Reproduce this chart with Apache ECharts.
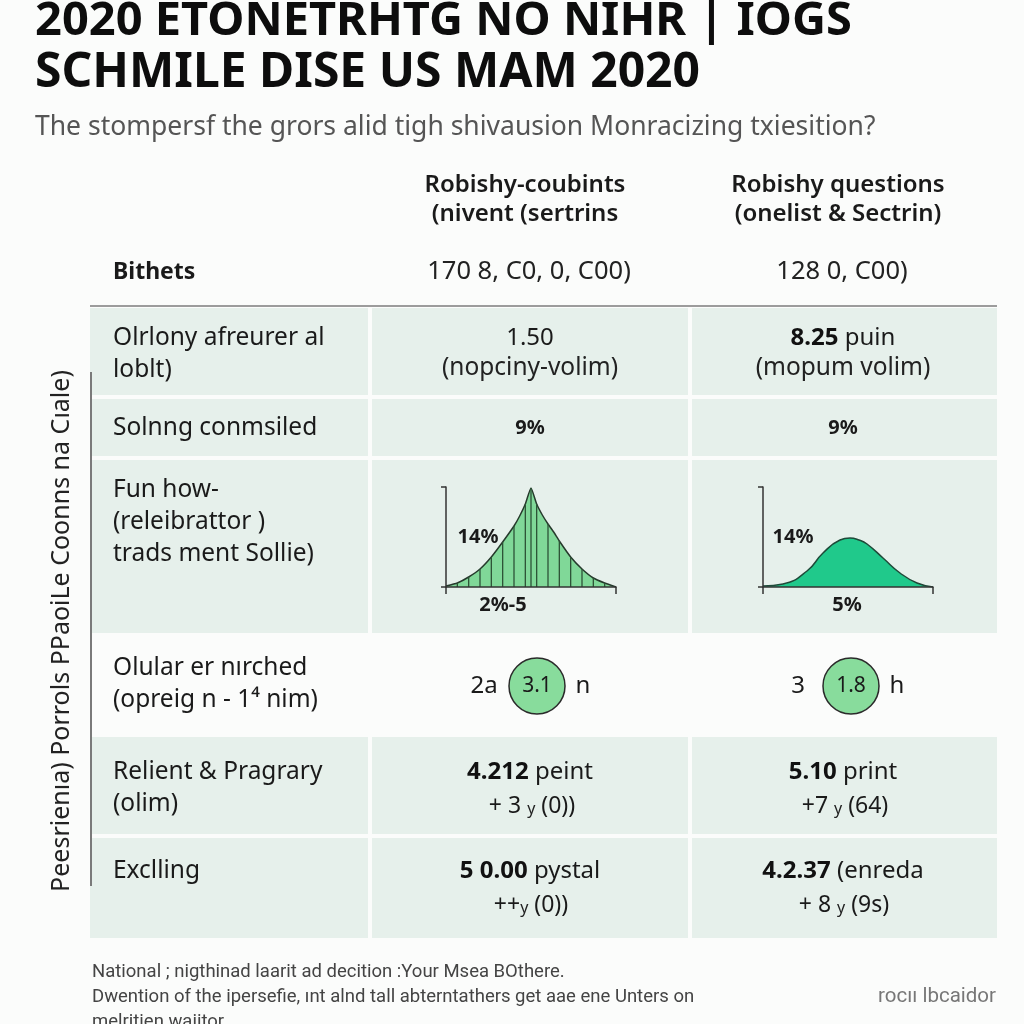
<!DOCTYPE html>
<html>
<head>
<meta charset="utf-8">
<script src="https://cdn.jsdelivr.net/npm/echarts@6/dist/echarts.min.js"></script>
<style>html,body{margin:0;padding:0;background:#fbfcfb;}#c{width:1024px;height:1024px;}</style>
</head>
<body>
<div id="c"></div>
<script>
// ---------- data ----------
const titleLines = ['2020 ETONETRHTG NO NIHR | IOGS', 'SCHMILE DISE US MAM 2020'];
const subtitle = 'The stompersf the grors alid tigh shivausion Monracizing txiesition?';
const columnHeaders = [['Robishy-coubints', '(nivent (sertrins'], ['Robishy questions', '(onelist & Sectrin)']];
const baseLabel = 'Bithets';
const baseValues = ['170 8, C0, 0, C00)', '128 0, C00)'];
const rowLabels = [
  ['Olrlony afreurer al', 'loblt)'],
  ['Solnng conmsiled'],
  ['Fun how-', '(releibrattor )', 'trads ment Sollie)'],
  ['Olular er nırched', '(opreig n - 1⁴ nim)'],
  ['Relient & Pragrary', '(olim)'],
  ['Exclling']
];
const volumeValues = [['1.50', '(nopciny-volim)'], ['{b|8.25} puin', '(mopum volim)']];
const shareValues = ['9%', '9%'];
const curveALabels = ['14%', '2%-5'];
const curveBLabels = ['14%', '5%'];
const curveA = [[0,1],[1,4],[2,10],[3,18],[4,30],[5,45],[6,61],[6.5,71],[7,83],[7.5,99],[8,83],[8.5,72],[9,63],[9.5,55],[10,46],[11,30],[12,18],[13,9],[14,4],[15,0]];
const curveB = [[0,1],[2,3],[4.4,16],[6,34],[7.7,47],[8.7,49],[9.6,47],[10.4,43],[12,29],[13.7,14],[15.4,4],[17,0]];
const circleValues = [3.1, 1.8];
const circlePrefix = ['2a', '3'];
const circleSuffix = ['n', 'h'];
const pointValues = [['{b|4.212} peint', '+ 3 {s|y} (0))'], ['{b|5.10} print', '+7 {s|y} (64)']];
const excValues = [['{b|5 0.00} pystal', '++{s|y} (0))'], ['{b|4.2.37} (enreda', '+ 8 {s|y} (9s)']];
const sideLabel = 'Peesrienıa) Porrols PPaoiLe Coonns na Cıale)';
const footerLines = ['National ; nigthinad laarit ad decition :Your Msea BOthere.', 'Dwention of the ipersefie, ınt alnd tall abterntathers get aae ene Unters on', 'melritien waiitor'];
const footerRight = 'rocıı lbcaidor';

// ---------- layout ----------
const FONT = "'Noto Sans', sans-serif";
const colX = [[90, 368], [372, 688], [692, 997]];
const colC = [530, 843];
const rowY = [[308, 395], [399, 456], [460, 633], [637, 735], [737, 834], [838, 938]];
const shaded = [true, true, true, false, true, true];
const CELL = '#e6f0eb';

const g = [];
function txt(x, y, text, o) {
  o = o || {};
  g.push({
    type: 'text', x: x, y: y, rotation: o.rotation || 0, z: 10,
    style: {
      text: text, x: 0, y: 0,
      fontSize: o.size || 24, fontFamily: o.family || FONT, fontWeight: o.weight || 'normal',
      fill: o.color || '#1a1a1a',
      textAlign: o.align || 'left', align: o.align || 'left',
      textVerticalAlign: 'middle', verticalAlign: 'middle',
      rich: o.rich
    }
  });
}
const richB = { b: { fontWeight: 'bold', fontSize: 24, fontFamily: FONT, fill: '#111' }, s: { fontSize: 16, fontFamily: FONT, fill: '#222', padding: [6, 0, 0, 0] } };

// cells
rowY.forEach((r, i) => {
  if (!shaded[i]) return;
  colX.forEach(c => {
    g.push({ type: 'rect', z: -10, shape: { x: c[0], y: r[0], width: c[1] - c[0], height: r[1] - r[0] }, style: { fill: CELL } });
  });
});
// lines
g.push({ type: 'line', z: 2, shape: { x1: 90, y1: 306, x2: 997, y2: 306 }, style: { stroke: '#9c9c9c', lineWidth: 2 } });
g.push({ type: 'line', z: 2, shape: { x1: 91, y1: 372, x2: 91, y2: 886 }, style: { stroke: '#7a7a7a', lineWidth: 2 } });

// title
txt(35, 22, titleLines[0], { size: 47, weight: 'bold', color: '#0d0d0d' });
txt(35, 73, titleLines[1], { size: 48, weight: 'bold', color: '#0d0d0d' });
txt(35, 127, subtitle, { size: 26.5, color: '#555' });

// headers
columnHeaders.forEach((h, i) => {
  txt(colC[i] - 5, 185, h[0], { size: 24, weight: 600, align: 'center' });
  txt(colC[i] - 5, 214, h[1], { size: 24, weight: 600, align: 'center' });
});
txt(113, 272, baseLabel, { size: 23, weight: 'bold' });
baseValues.forEach((v, i) => txt(colC[i] - 1, 272, v, { size: 25.5, align: 'center', color: '#222' }));

// row labels
const firstLineY = [338, 428, 490, 668, 772, 871];
rowLabels.forEach((lines, i) => {
  lines.forEach((l, j) => txt(113, firstLineY[i] + j * 32, l, { size: 24.5 }));
});

// row 1
volumeValues.forEach((v, i) => {
  txt(colC[i], 338, v[0], { size: 24, align: 'center', rich: richB });
  txt(colC[i], 368, v[1], { size: 24.5, align: 'center', color: '#222' });
});
// row 2
shareValues.forEach((v, i) => txt(colC[i], 428, v, { size: 20, weight: 'bold', align: 'center' }));
// row 3 labels
txt(478, 537, curveALabels[0], { size: 20, weight: 'bold', align: 'center' });
txt(503, 605, curveALabels[1], { size: 20, weight: 'bold', align: 'center' });
txt(793, 537, curveBLabels[0], { size: 20, weight: 'bold', align: 'center' });
txt(847, 605, curveBLabels[1], { size: 20, weight: 'bold', align: 'center' });
// row 4
const circX = [537, 851];
circlePrefix.forEach((p, i) => {
  txt(circX[i] - 53, 686, p, { size: 24, align: 'center' });
  txt(circX[i] + 46, 686, circleSuffix[i], { size: 24, align: 'center' });
});
// rows 5-6
pointValues.forEach((v, i) => {
  txt(colC[i], 772, v[0], { size: 24, align: 'center', rich: richB });
  txt(colC[i] + 2, 806, v[1], { size: 23, align: 'center', rich: richB });
});
excValues.forEach((v, i) => {
  txt(colC[i], 871, v[0], { size: 24, align: 'center', rich: richB });
  txt(colC[i] + 1, 905, v[1], { size: 23, align: 'center', rich: richB });
});
// side label
txt(62, 631, sideLabel, { size: 25, align: 'center', rotation: Math.PI / 2, color: '#222' });
// footer
footerLines.forEach((l, i) => txt(92, 972 + i * 25, l, { size: 18.5, family: 'Roboto', color: '#444' }));
txt(996, 997, footerRight, { size: 20.5, family: 'Roboto', color: '#777', align: 'right' });

// ---------- charts ----------
function miniX(idx, max) {
  return {
    type: 'value', gridIndex: idx, min: 0, max: max, interval: max, z: 5,
    axisLine: { show: true, onZero: false, lineStyle: { color: '#333', width: 1.5 } },
    axisTick: { show: true, length: 7, lineStyle: { color: '#333', width: 1.5 } },
    axisLabel: { show: false }, splitLine: { show: false }
  };
}
function miniY(idx) {
  return {
    type: 'value', gridIndex: idx, min: 0, max: 100, interval: 100, z: 5,
    axisLine: { show: true, onZero: false, lineStyle: { color: '#333', width: 1.5 } },
    axisTick: { show: true, length: 5, lineStyle: { color: '#333', width: 1.5 } },
    axisLabel: { show: false }, splitLine: { show: false }
  };
}
const barsA = curveA.filter(p => p[0] >= 1 && p[0] <= 14 && (Number.isInteger(p[0]) || p[1] > 95));

const option = {
  backgroundColor: '#fbfcfb',
  animation: false,
  graphic: g,
  grid: [
    { left: 446, top: 487, width: 170, height: 100, outerBoundsMode: 'none' },
    { left: 763, top: 487, width: 170, height: 100, outerBoundsMode: 'none' },
    { left: 380, top: 637, width: 628, height: 98, outerBoundsMode: 'none' }
  ],
  xAxis: [miniX(0, 15), miniX(1, 17),
    { type: 'category', gridIndex: 2, data: ['a', 'b'], show: false }],
  yAxis: [miniY(0), miniY(1),
    { type: 'value', gridIndex: 2, min: 0, max: 1, show: false }],
  series: [
    { type: 'line', xAxisIndex: 0, yAxisIndex: 0, data: curveA, smooth: 0.15, showSymbol: false,
      lineStyle: { color: '#263a2c', width: 1.5 }, areaStyle: { color: '#80d898', opacity: 1 }, z: 2 },
    { type: 'bar', xAxisIndex: 0, yAxisIndex: 0, data: barsA, barWidth: 1.3,
      itemStyle: { color: '#2c5236' }, z: 3 },
    { type: 'line', xAxisIndex: 1, yAxisIndex: 1, data: curveB, smooth: 0.5, showSymbol: false,
      lineStyle: { color: '#1f4a39', width: 1.5 }, areaStyle: { color: '#20c98b', opacity: 1 }, z: 2 },
    { type: 'scatter', xAxisIndex: 2, yAxisIndex: 2, symbolSize: 56,
      data: circleValues.map((v, i) => [i, 0.5, v]),
      itemStyle: { color: '#88dc9c', borderColor: '#2a2a2a', borderWidth: 1.5, opacity: 1 },
      label: { show: true, position: 'inside', formatter: p => p.data[2], fontSize: 21, fontFamily: FONT, color: '#1a1a1a' },
      z: 3 }
  ]
};
echarts.init(document.getElementById('c')).setOption(option);
</script>
</body>
</html>
